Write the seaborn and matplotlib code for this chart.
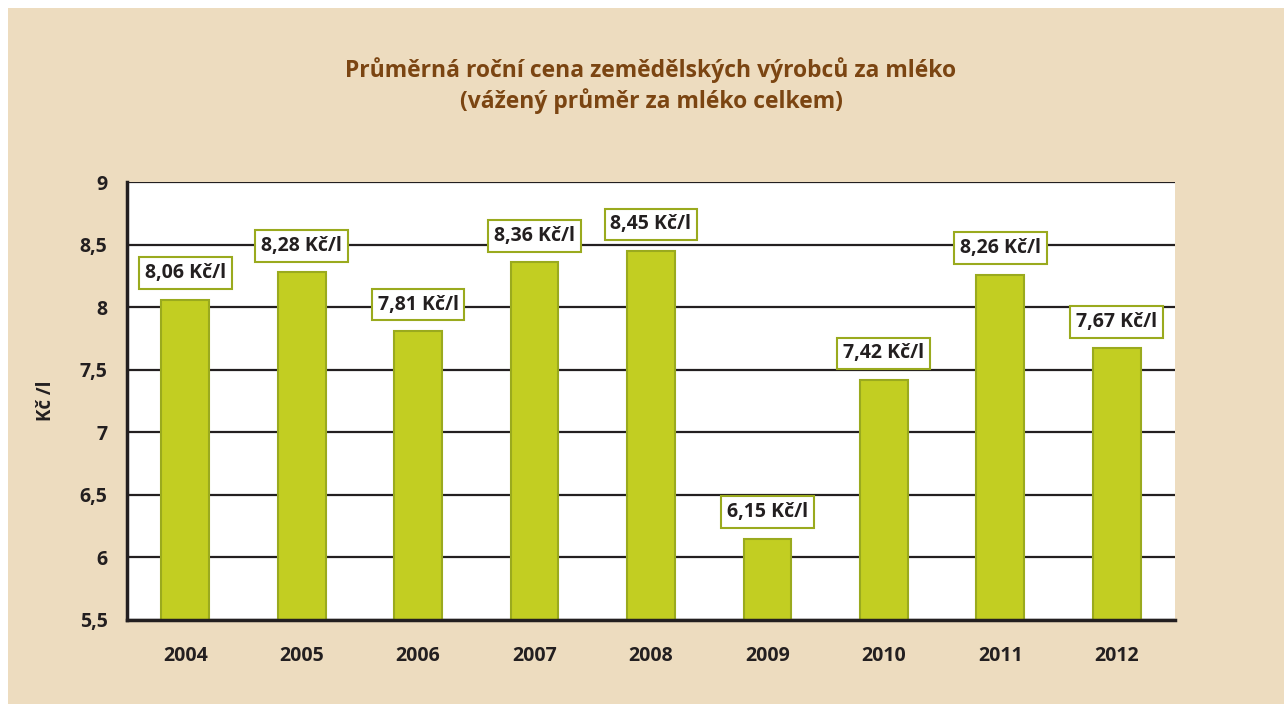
import pandas as pd
import numpy as np
import matplotlib.pyplot as plt
import seaborn as sns
from matplotlib.patches import Rectangle

years = ['2004', '2005', '2006', '2007', '2008', '2009', '2010', '2011', '2012']
prices = [8.06, 8.28, 7.81, 8.36, 8.45, 6.15, 7.42, 8.26, 7.67]
yticks = [5.5, 6, 6.5, 7, 7.5, 8, 8.5, 9]

bg = '#EDDCBF'
bar_fill = '#C2CE22'
bar_edge = '#9AAA1E'
dark = '#231F20'
brown = '#7B4512'

sns.set_style('white')
plt.rcParams['font.family'] = ['Open Sans', 'DejaVu Sans']

df = pd.DataFrame({'Rok': years, 'Cena': prices})

fig = plt.figure(figsize=(12.84, 7.04), dpi=100)
fig.patch.set_facecolor('white')
fig.patches.append(Rectangle((8/1284, 0), 1 - 8/1284, 1 - 8/704, transform=fig.transFigure,
                             facecolor=bg, edgecolor='none', zorder=-10))
ax = fig.add_axes([127/1284, 1 - 620/704, 1048/1284, 438/704])
ax.set_facecolor('white')

sns.barplot(data=df, x='Rok', y='Cena', ax=ax, color=bar_fill, width=0.41,
            edgecolor=bar_edge, linewidth=1.5, saturation=1, zorder=3)

ax.set_ylim(5.5, 9)
ax.set_xlim(-0.5, len(years) - 0.5)
ax.set_yticks(yticks)
ax.set_yticklabels([f'{t:g}'.replace('.', ',') for t in yticks])
ax.yaxis.grid(True, color=dark, linewidth=1.6, zorder=0)
ax.set_axisbelow(True)

for s in ['top', 'right']:
    ax.spines[s].set_visible(False)
for s in ['left', 'bottom']:
    ax.spines[s].set_color(dark)
    ax.spines[s].set_linewidth(2.5)
    ax.spines[s].set_zorder(5)

# x ticks at the category boundaries, labels in the middle
ax.set_xticks(np.arange(len(years) + 1) - 0.5, minor=True)
ax.tick_params(axis='x', which='major', length=0, pad=19)
ax.tick_params(axis='x', which='minor', length=7, width=2, color=dark, direction='out')
ax.tick_params(axis='y', length=7, width=2, color=dark, pad=7)
for lab in ax.get_xticklabels() + ax.get_yticklabels():
    lab.set_fontweight('bold')
    lab.set_fontsize(14)
    lab.set_color(dark)

ax.set_xlabel('')
ax.set_ylabel('Kč /l', fontsize=13.5, fontweight='bold', color=dark, labelpad=17)

for i, v in enumerate(prices):
    ax.annotate(f'{v:.2f}'.replace('.', ',') + ' Kč/l', xy=(i, v), xytext=(0, 19),
                textcoords='offset points', ha='center', va='center',
                fontsize=14, fontweight='bold', color=dark, zorder=6,
                bbox=dict(boxstyle='square,pad=0.3', facecolor='white',
                          edgecolor=bar_edge, linewidth=1.5))

fig.text(651/1284, 1 - 70/704, 'Průměrná roční cena zemědělských výrobců za mléko',
         ha='center', va='center', fontsize=16.5, fontweight='bold', color=brown)
fig.text(651/1284, 1 - 101/704, '(vážený průměr za mléko celkem)',
         ha='center', va='center', fontsize=16.5, fontweight='bold', color=brown)

plt.savefig('out.png', dpi=100, facecolor=fig.get_facecolor())
